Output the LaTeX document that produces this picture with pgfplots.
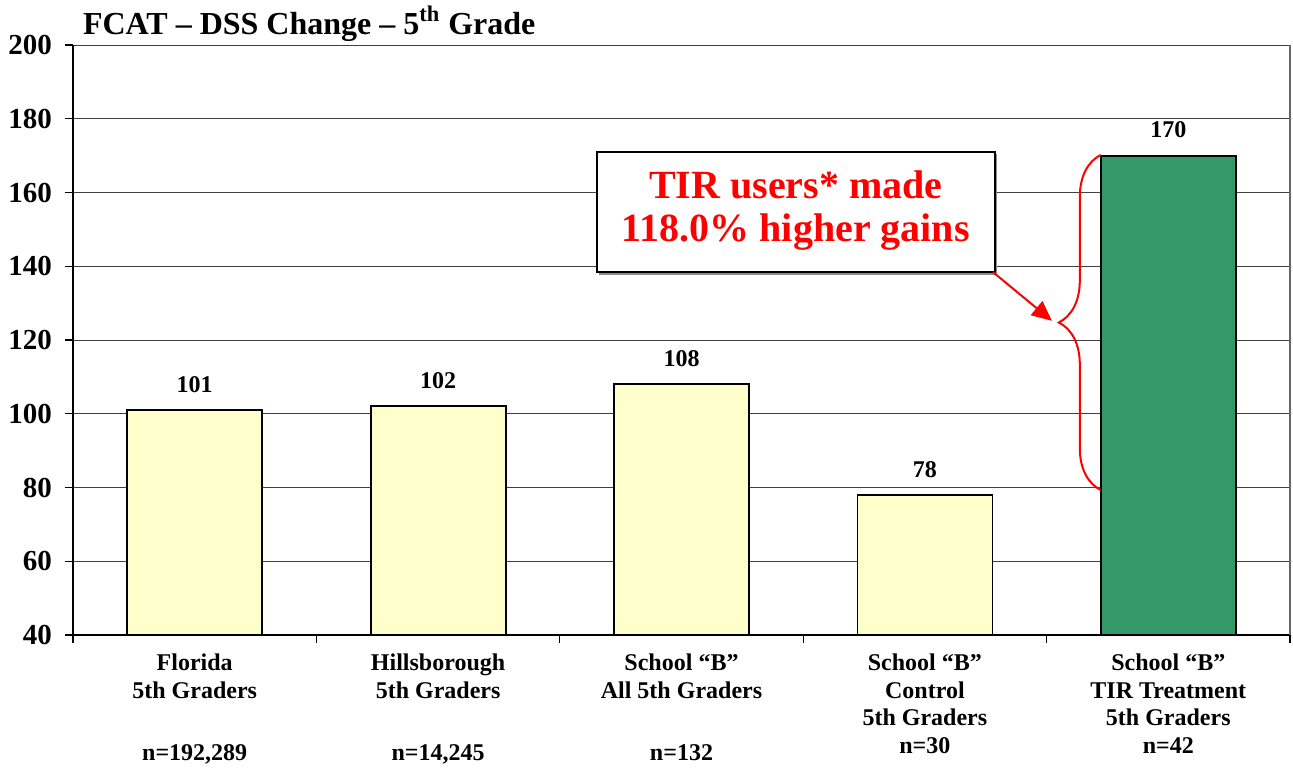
\documentclass[border=0pt]{standalone}
\usepackage{fontspec}
\setmainfont{Liberation Serif}
\usepackage{pgfplots}
\pgfplotsset{compat=1.18}
\usetikzlibrary{arrows.meta,decorations.pathreplacing}
\definecolor{baryellow}{HTML}{FFFFCC}
\definecolor{bargreen}{HTML}{339966}
\definecolor{callred}{HTML}{FF0000}
\begin{document}
\begin{tikzpicture}
\begin{axis}[
  scale only axis, width=608.5pt, height=295pt,
  xmin=-0.5, xmax=4.5, ymin=40, ymax=200,
  ytick={40,60,...,200},
  ymajorgrids, grid style={draw=black!75, line width=0.5pt},
  axis x line*=bottom, axis y line*=left,
  axis line style={line width=0.7pt, -},
  tick align=outside, major tick length=4pt,
  tick style={black, line width=0.6pt},
  xtick={-0.5,0.5,1.5,2.5,3.5,4.5}, xticklabels={},
  extra x ticks={0,1,2,3,4},
  extra x tick labels={{Florida\\5th Graders\\[17.5pt]n=192,289},{Hillsborough\\5th Graders\\[17.5pt]n=14,245},{School “B”\\All 5th Graders\\[17.5pt]n=132},{School “B”\\Control\\5th Graders\\n=30},{School “B”\\TIR Treatment\\5th Graders\\n=42}},
  extra x tick style={major tick length=0pt, grid=none,
    tick label style={align=center, font=\fontsize{12}{13.75}\selectfont\bfseries, yshift=-6pt}},
  yticklabel style={font=\fontsize{14.5}{16}\selectfont\bfseries, xshift=-3pt},
  /pgf/number format/assume math mode=true,
  ybar, bar width=67.5pt,
  nodes near coords,
  nodes near coords style={font=\fontsize{12}{14}\selectfont\bfseries, text=black, yshift=5pt},
  clip=false,
]
\addplot[bar shift=0pt, fill=baryellow, draw=black, line width=0.9pt] coordinates {(0,101) (1,102) (2,108) (3,78)};
\addplot[bar shift=0pt, fill=bargreen, draw=black, line width=0.9pt] coordinates {(4,170)};
\coordinate (ll) at (rel axis cs:0,0);
\coordinate (ur) at (rel axis cs:1,1);
\draw[black!60, line width=0.6pt] (rel axis cs:1,0) -- (rel axis cs:1,1);
% callout box
\fill[black!45] ([shift={(1.2pt,-1.2pt)}]axis cs:1.653,171.0) rectangle ([shift={(1.2pt,-1.2pt)}]axis cs:3.288,138.4);
\draw[black, fill=white, line width=0.8pt] (axis cs:1.653,171.0) rectangle (axis cs:3.288,138.4);
\node[align=center, text=callred, font=\fontsize{20}{21.5}\selectfont\bfseries] at (axis cs:2.470,155.2) {TIR users* made\\118.0\% higher gains};
\draw[callred, line width=1pt, -{Triangle[length=10pt,width=9pt]}] (axis cs:3.280,138.4) -- (axis cs:3.522,125.2);
\draw[callred, line width=1pt, decorate, decoration={brace, amplitude=21pt}] (axis cs:3.7227,79.3) -- (axis cs:3.7227,170.2);
\node[anchor=base west, font=\fontsize{16}{18}\selectfont\bfseries] at ([shift={(1.5pt,5.5pt)}]rel axis cs:0,1) {FCAT – DSS Change – 5\textsuperscript{th} Grade};
\end{axis}
\pgfresetboundingbox
\path ([shift={(-36.5pt,-66pt)}]ll) rectangle ([shift={(1.5pt,22.5pt)}]ur);
\end{tikzpicture}
\end{document}
